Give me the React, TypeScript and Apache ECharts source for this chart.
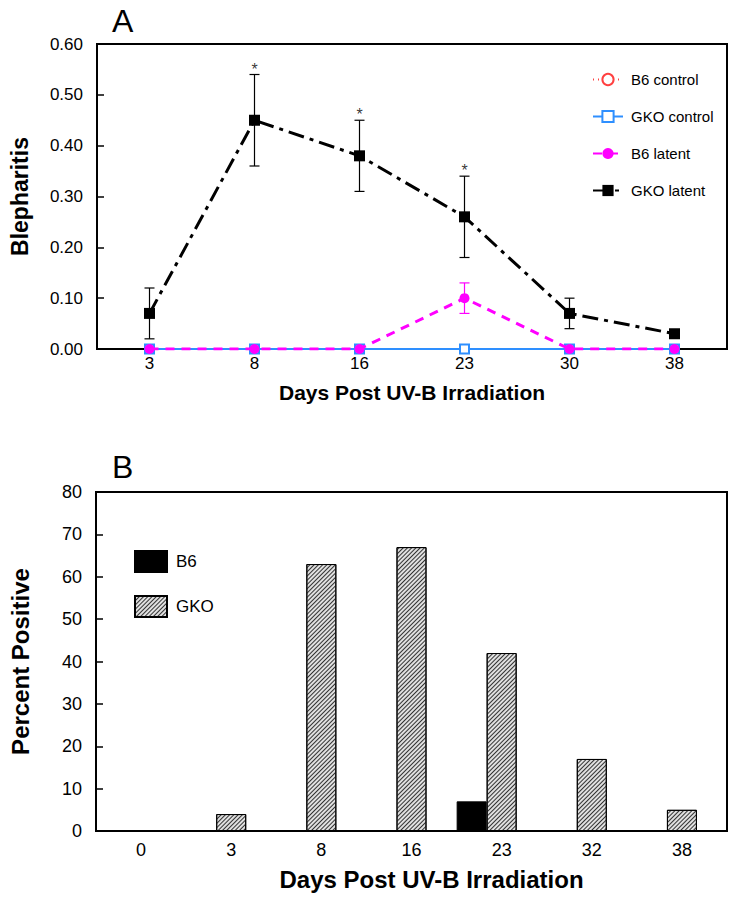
import React, { useEffect, useRef } from "react";
import * as echarts from "echarts";

// ---- Panel A data ----
const daysA = ["3", "8", "16", "23", "30", "38"];
const b6Control = [0, 0, 0, 0, 0, 0];
const gkoControl = [0, 0, 0, 0, 0, 0];
const b6Latent = [0, 0, 0, 0.1, 0, 0];
const b6LatentErr = [0, 0, 0, 0.03, 0, 0];
const gkoLatent = [0.07, 0.45, 0.38, 0.26, 0.07, 0.03];
const gkoLatentErr = [0.05, 0.09, 0.07, 0.08, 0.03, 0];
const significantDays = ["8", "16", "23"];

// ---- Panel B data ----
const daysB = ["0", "3", "8", "16", "23", "32", "38"];
const b6Positive = [0, 0, 0, 0, 7, 0, 0];
const gkoPositive = [0, 4, 63, 67, 42, 17, 5];

const FONT = "'Liberation Sans', Arial, Helvetica, sans-serif";

function errData(mean: number[], err: number[]) {
  return mean
    .map((m, i) => [i, m - err[i], m + err[i], err[i]])
    .filter((d) => d[3] > 0)
    .map((d) => [d[0], d[1], d[2]]);
}

function errSeries(name: string, data: number[][], color: string) {
  return {
    type: "custom",
    name,
    xAxisIndex: 0,
    yAxisIndex: 0,
    z: 3,
    data,
    encode: { x: 0, y: [1, 2] },
    renderItem: (params: any, api: any) => {
      const i = api.value(0);
      const lo = api.coord([i, api.value(1)]);
      const hi = api.coord([i, api.value(2)]);
      const w = 5;
      const style = { stroke: color, lineWidth: 1.2 };
      return {
        type: "group",
        children: [
          { type: "line", shape: { x1: lo[0], y1: lo[1], x2: hi[0], y2: hi[1] }, style },
          { type: "line", shape: { x1: hi[0] - w, y1: hi[1], x2: hi[0] + w, y2: hi[1] }, style },
          { type: "line", shape: { x1: lo[0] - w, y1: lo[1], x2: lo[0] + w, y2: lo[1] }, style },
        ],
      };
    },
  };
}

const hatch = {
  symbol: "rect",
  symbolSize: 1,
  dashArrayX: [1, 0],
  dashArrayY: [1, 1.6],
  rotation: -Math.PI / 4,
  color: "#333",
};

export default function App() {
  const ref = useRef<HTMLDivElement>(null);
  useEffect(() => {
    if (!ref.current) return;
    const chart = echarts.init(ref.current, null, { renderer: "svg" });
    const axisLine = { lineStyle: { color: "#000", width: 2 } };
    const axisTick = { inside: true, length: 7, lineStyle: { color: "#000", width: 1.5 } };
    const nameStyle = { fontFamily: FONT, fontWeight: "bold", fontSize: 21, color: "#000" };

    const option: any = {
      animation: false,
      backgroundColor: "#fff",
      textStyle: { fontFamily: FONT },
      title: [
        { text: "A", left: 107, top: 0, textStyle: { fontFamily: FONT, fontSize: 32, fontWeight: "normal", color: "#000" } },
        { text: "B", left: 107, top: 446, textStyle: { fontFamily: FONT, fontSize: 32, fontWeight: "normal", color: "#000" } },
      ],
      legend: [
        {
          data: ["B6 control", "GKO control", "B6 latent", "GKO latent"],
          orient: "vertical",
          left: 587,
          top: 67,
          itemGap: 22,
          itemWidth: 30,
          itemHeight: 14,
          textStyle: { fontFamily: FONT, fontSize: 15, color: "#000", padding: [0, 0, 0, 3] },
        },
        {
          data: ["B6", "GKO"],
          orient: "vertical",
          left: 129,
          top: 545,
          itemGap: 22,
          itemWidth: 32,
          itemHeight: 21,
          icon: "rect",
          textStyle: { fontFamily: FONT, fontSize: 17, color: "#000", padding: [0, 0, 0, 4] },
        },
      ],
      grid: [
        { left: 95, right: 13, top: 44, height: 305, show: true, borderColor: "#000", borderWidth: 2 },
        { left: 95, right: 13, top: 492, height: 339, show: true, borderColor: "#000", borderWidth: 2 },
      ],
      xAxis: [
        {
          type: "category",
          gridIndex: 0,
          data: daysA,
          axisLine,
          axisTick: { ...axisTick, alignWithLabel: true },
          axisLabel: { fontSize: 17, color: "#000", margin: 6, fontFamily: FONT },
          name: "Days Post UV-B Irradiation",
          nameLocation: "middle",
          nameGap: 33,
          nameTextStyle: nameStyle,
        },
        {
          type: "category",
          gridIndex: 1,
          data: daysB,
          axisLine,
          axisTick: { ...axisTick, alignWithLabel: true },
          axisLabel: { fontSize: 18, color: "#000", margin: 10, fontFamily: FONT },
          name: "Days Post UV-B Irradiation",
          nameLocation: "middle",
          nameGap: 36,
          nameTextStyle: { ...nameStyle, fontSize: 24, padding: [0, 0, 0, 40] },
        },
        {
          type: "category",
          gridIndex: 1,
          data: daysB,
          show: false,
        },
      ],
      yAxis: [
        {
          type: "value",
          gridIndex: 0,
          min: 0,
          max: 0.6,
          interval: 0.1,
          axisLine: { show: true, ...axisLine },
          axisTick: { show: true, ...axisTick },
          splitLine: { show: false },
          axisLabel: { fontSize: 17, color: "#000", margin: 14, fontFamily: FONT, formatter: (v: number) => v.toFixed(2) },
          name: "Blepharitis",
          nameLocation: "middle",
          nameGap: 66,
          nameTextStyle: { ...nameStyle, fontSize: 23 },
        },
        {
          type: "value",
          gridIndex: 1,
          min: 0,
          max: 80,
          interval: 10,
          axisLine: { show: true, ...axisLine },
          axisTick: { show: true, ...axisTick },
          splitLine: { show: false },
          axisLabel: { fontSize: 18, color: "#000", margin: 14, fontFamily: FONT },
          name: "Percent Positive",
          nameLocation: "middle",
          nameGap: 64,
          nameTextStyle: { ...nameStyle, fontSize: 24 },
        },
      ],
      series: [
        {
          type: "line",
          name: "B6 control",
          xAxisIndex: 0,
          yAxisIndex: 0,
          data: b6Control,
          symbol: "emptyCircle",
          symbolSize: 8,
          lineStyle: { color: "#ff4040", width: 1.5, type: [1, 4] },
          itemStyle: { color: "#ff4040", borderWidth: 1.5 },
          z: 2,
        },
        {
          type: "line",
          name: "GKO control",
          xAxisIndex: 0,
          yAxisIndex: 0,
          data: gkoControl,
          symbol: "emptyRect",
          symbolSize: 9,
          lineStyle: { color: "#2e8fff", width: 1.8 },
          itemStyle: { color: "#2e8fff", borderWidth: 1.5 },
          z: 3,
        },
        {
          type: "line",
          name: "B6 latent",
          xAxisIndex: 0,
          yAxisIndex: 0,
          data: b6Latent,
          symbol: "circle",
          symbolSize: 10,
          lineStyle: { color: "#ff00ff", width: 3, type: [9, 7] },
          itemStyle: { color: "#ff00ff" },
          z: 4,
        },
        {
          type: "line",
          name: "GKO latent",
          xAxisIndex: 0,
          yAxisIndex: 0,
          data: gkoLatent,
          symbol: "rect",
          symbolSize: 11,
          lineStyle: { color: "#000", width: 3, type: [16, 6, 4, 6] },
          itemStyle: { color: "#000" },
          z: 5,
        },
        errSeries("B6 latent err", errData(b6Latent, b6LatentErr), "#ff00ff"),
        errSeries("GKO latent err", errData(gkoLatent, gkoLatentErr), "#000"),
        {
          type: "scatter",
          name: "significance",
          xAxisIndex: 0,
          yAxisIndex: 0,
          symbol: "circle",
          symbolSize: 1,
          itemStyle: { color: "rgba(0,0,0,0)" },
          data: significantDays.map((d) => {
            const i = daysA.indexOf(d);
            return [d, gkoLatent[i] + gkoLatentErr[i]];
          }),
          label: { show: true, formatter: "*", position: "top", distance: -3, fontSize: 16, color: "#000", fontFamily: FONT },
          z: 6,
        },
        {
          type: "bar",
          name: "GKO",
          xAxisIndex: 1,
          yAxisIndex: 1,
          barWidth: 30,
          data: gkoPositive.map((v) => (v === 0 ? null : v)),
          itemStyle: { color: "#e0e0e0", borderColor: "#000", borderWidth: 1, decal: hatch },
        },
        {
          type: "bar",
          name: "B6",
          xAxisIndex: 2,
          yAxisIndex: 1,
          barWidth: 30,
          barGap: "100%",
          data: b6Positive.map((v) => (v === 0 ? null : v)),
          itemStyle: { color: "#000", borderColor: "#000", borderWidth: 1 },
        },
        {
          type: "bar",
          name: "_spacer",
          xAxisIndex: 2,
          yAxisIndex: 1,
          barWidth: 30,
          barGap: "100%",
          data: b6Positive.map(() => null),
        },
      ],
    };
    chart.setOption(option);
    return () => chart.dispose();
  }, []);
  return (
    <div
      ref={ref}
      style={{ position: "absolute", left: 0, top: 0, width: 740, height: 900, background: "#fff" }}
    />
  );
}
